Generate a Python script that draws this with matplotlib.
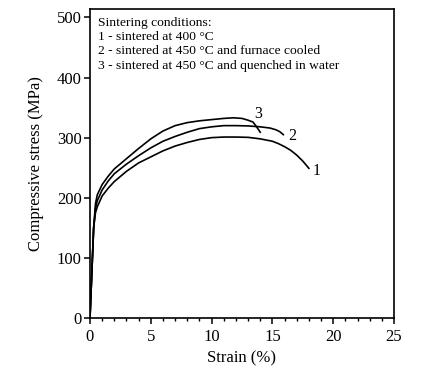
import matplotlib
matplotlib.use("Agg")
import matplotlib.pyplot as plt
from matplotlib.ticker import MultipleLocator

# Curve 1 - sintered at 400 C
strain1 = [0, 0.3, 0.45, 0.6, 1.0, 1.5, 2.0, 3.0, 4.0, 5.0, 6.0, 7.0, 8.0, 9.0, 10.0, 11.0, 12.0, 13.0, 14.0, 15.0, 15.5, 16.0, 16.5, 17.0, 17.5, 18.0]
stress1 = [0, 150, 175, 185, 203, 216, 227, 244, 258, 268, 278, 286, 292, 297, 300, 301, 301, 300.5, 298, 294, 290, 285, 279, 271, 261, 249]

# Curve 2 - sintered at 450 C and furnace cooled
strain2 = [0, 0.3, 0.45, 0.6, 1.0, 1.5, 2.0, 3.0, 4.0, 5.0, 6.0, 7.0, 8.0, 9.0, 10.0, 11.0, 12.0, 13.0, 14.0, 14.8, 15.3, 15.6, 15.9]
stress2 = [0, 150, 182, 195, 213, 228, 240, 256, 270, 283, 294, 302, 309, 315, 318, 320, 320, 319.5, 318, 316, 313, 310, 305]

# Curve 3 - sintered at 450 C and quenched in water
strain3 = [0, 0.3, 0.45, 0.6, 1.0, 1.5, 2.0, 3.0, 4.0, 5.0, 6.0, 7.0, 8.0, 9.0, 10.0, 11.0, 11.8, 12.5, 13.0, 13.4, 13.7, 14.0]
stress3 = [0, 150, 190, 205, 222, 236, 248, 265, 282, 298, 311, 320, 325, 328, 330, 332, 333, 332, 329, 326, 318, 309]

labels = ["1", "2", "3"]
label_pos = [(18.6, 244), (16.6, 302), (13.8, 340)]

legend_lines = [
    "Sintering conditions:",
    "1 - sintered at 400 \u00b0C",
    "2 - sintered at 450 \u00b0C and furnace cooled",
    "3 - sintered at 450 \u00b0C and quenched in water",
]

plt.rcParams['font.family'] = ['Liberation Serif', 'DejaVu Serif']

fig = plt.figure(figsize=(4.38, 3.78), dpi=100)
ax = fig.add_axes([90/438, 60/378, 304/438, 309/378])

for xs, ys in [(strain1, stress1), (strain2, stress2), (strain3, stress3)]:
    ax.plot(xs, ys, color='black', lw=1.2, solid_joinstyle='round')

for lab, (x, y) in zip(labels, label_pos):
    ax.text(x, y, lab, fontsize=11.5, ha='center', va='center')

ax.text(0.026, 0.974, "\n".join(legend_lines), transform=ax.transAxes,
        fontsize=9.7, ha='left', va='top', linespacing=1.24)

ax.set_xlim(0, 25)
ax.set_ylim(0, 514)
ax.xaxis.set_major_locator(MultipleLocator(5))
ax.xaxis.set_minor_locator(MultipleLocator(1))
ax.yaxis.set_major_locator(MultipleLocator(100))
ax.tick_params(which='major', direction='out', length=4, width=1.1, labelsize=12, pad=2)
ax.tick_params(axis='x', which='major', pad=4)
ax.tick_params(which='minor', direction='out', length=2, width=1.0)
for s in ax.spines.values():
    s.set_linewidth(1.2)

ax.set_xlabel("Strain (%)", fontsize=12, labelpad=4)
ax.set_ylabel("Compressive stress (MPa)", fontsize=12, labelpad=9)

fig.savefig("out.png", dpi=100)
